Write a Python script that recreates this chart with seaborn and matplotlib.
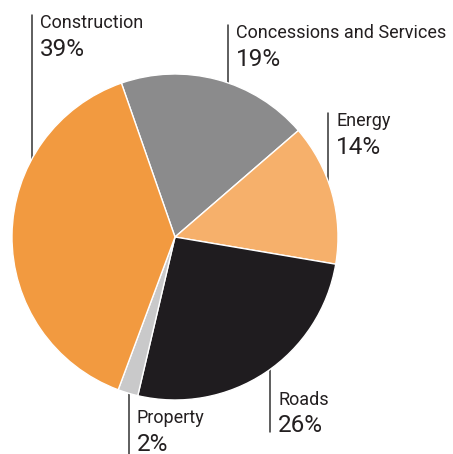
import matplotlib
matplotlib.use("Agg")
import matplotlib.pyplot as plt
import seaborn as sns
import numpy as np

# segment data (clockwise from the top)
segments = ["Concessions and Services", "Energy", "Roads", "Property", "Construction"]
shares = [19, 14, 26, 2, 39]
colors = ["#8b8b8c", "#f6b06b", "#1f1c1f", "#c9c9ca", "#f29a40"]

sns.set_theme(style="white")
plt.rcParams['font.family'] = ['Roboto', 'DejaVu Sans']

W, H = 453, 454
cx, cy, R = 175, 237, 163

def px(x, y):
    # pixel -> data coords (pie radius = 1)
    return (x - cx) / R, (cy - y) / R

fig = plt.figure(figsize=(W / 100, H / 100), dpi=100)
ax = fig.add_axes([0, 0, 1, 1])
ax.pie(shares, colors=colors, startangle=109.2, counterclock=False,
       wedgeprops=dict(edgecolor="white", linewidth=1.0))
ax.set_xlim(px(0, 0)[0], px(W, 0)[0])
ax.set_ylim(px(0, H)[1], px(0, 0)[1])
ax.set_aspect("auto")
ax.axis("off")

# label layout: line x, line far end y (pixels), text x, name top y, pct top y
layout = {
    "Construction": (32, 15, 40, 14, 38),
    "Concessions and Services": (228, 25, 236, 24, 48),
    "Energy": (328, 113, 336, 112, 136),
    "Roads": (270, 432, 278, 391, 414),
    "Property": (129, 454, 137, 409, 433),
}
ink = "#231f20"
for name, pct in zip(segments, shares):
    lx, ly, tx, ny, py = layout[name]
    x0, y_far = px(lx, ly)
    y_edge = np.sqrt(1 - x0 ** 2) * np.sign(y_far)
    ax.plot([x0, x0], [y_far, y_edge], color="#333333", lw=1.1, zorder=0)
    ax.text(*px(tx, ny), name, fontsize=13, color=ink, va="top", ha="left")
    ax.text(*px(tx, py), f"{pct}%", fontsize=17.5, color=ink, va="top", ha="left")

fig.savefig("out.png", dpi=100)
